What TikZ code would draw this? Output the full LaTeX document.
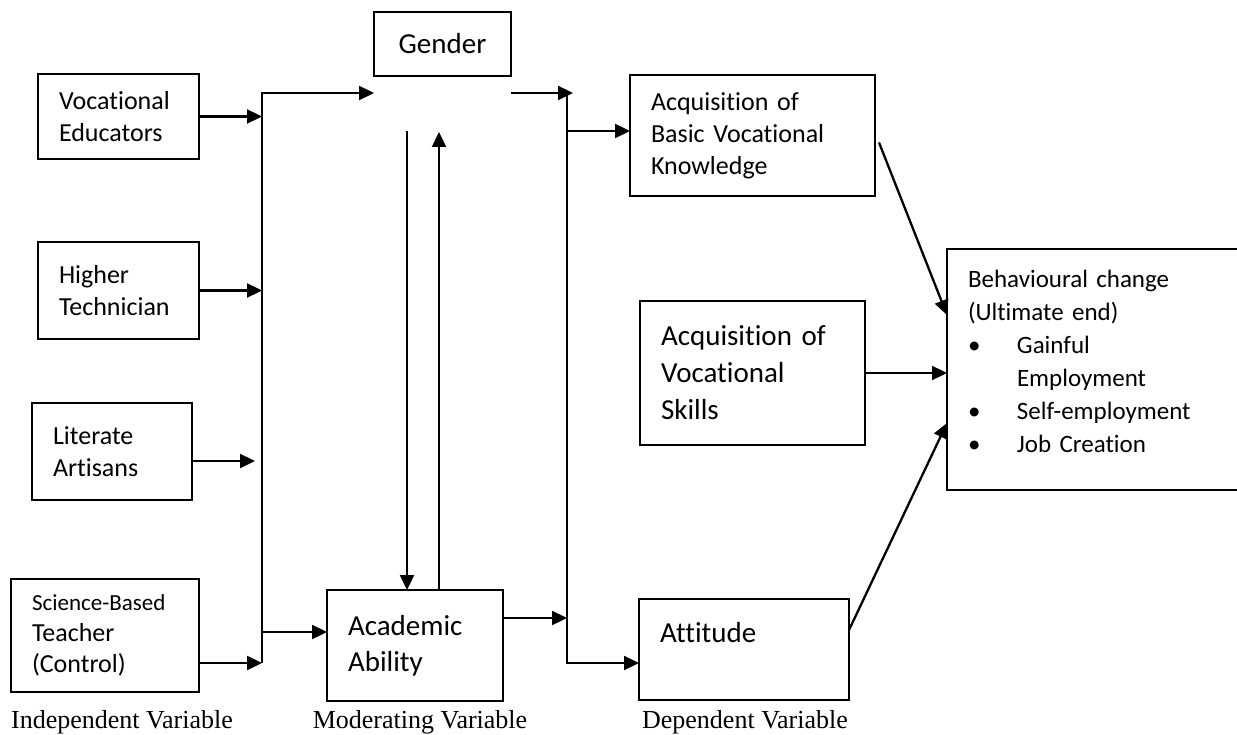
\documentclass[tikz,border=0pt]{standalone}
\usepackage{fontspec}
\setmainfont{Carlito}[Ligatures=CommonOff]
\newfontfamily\timesfont{Liberation Serif}
\usetikzlibrary{arrows.meta, calc}

\tikzset{
  varbox/.style={draw, line width=2.4pt, anchor=north west, inner xsep=21pt,
    inner ysep=0pt, outer sep=0pt, align=left, font=\fontsize{26}{32}\selectfont},
  arr/.style={line width=2.3pt, -{Triangle[length=15pt,width=14pt]}},
  varlabel/.style={font=\timesfont\fontsize{26}{30}\selectfont}
}

\begin{document}
\begin{tikzpicture}[x=1pt, y=-1pt]
  \useasboundingbox (0,0) rectangle (1237,735);

  % Independent variables
  \node[varbox, text width=119pt, minimum height=85pt] (voced) at (38,74)
    {Vocational\\Educators};
  \node[varbox, text width=119pt, minimum height=97pt] (higher) at (38,242)
    {Higher\\Technician};
  \node[varbox, text width=118pt, minimum height=97pt] (literate) at (32,403)
    {Literate\\Artisans};
  \node[varbox, text width=146pt, minimum height=113pt, font=\fontsize{26}{31}\selectfont] (science) at (11,579)
    {{\fontsize{23}{31}\selectfont Science-Based}\\Teacher\\(Control)};

  % Moderating variables
  \node[varbox, text width=95pt, minimum height=64pt, align=center,
    font=\fontsize{29}{35}\selectfont] (gender) at (374,12) {Gender};
  \node[varbox, text width=134pt, minimum height=111pt,
    font=\fontsize{29}{36}\selectfont] (academic) at (327,590) {Academic\\Ability};

  % Dependent variables
  \node[varbox, text width=203pt, minimum height=121pt] (basic) at (630,75)
    {Acquisition of\\Basic Vocational\\Knowledge};
  \node[varbox, text width=183pt, minimum height=144pt,
    font=\fontsize{29}{37}\selectfont] (skills) at (640,301)
    {Acquisition of\\Vocational\\Skills};
  \node[varbox, text width=168pt, minimum height=101pt,
    font=\fontsize{29}{32}\selectfont] (attitude) at (639,599) {Attitude\\[3pt]\mbox{}};

  % Ultimate end
  \node[varbox, text width=250pt, minimum height=241pt,
    font=\fontsize{25}{33}\selectfont] (behav) at (947,249)
    {Behavioural change\\(Ultimate end)\\
     \makebox[49pt][l]{\textbullet}Gainful\\
     \hspace*{49pt}Employment\\
     \makebox[49pt][l]{\textbullet}Self-employment\\
     \makebox[49pt][l]{\textbullet}Job Creation\\[-17pt]\mbox{}};

  % Bus lines
  \coordinate (bus1t) at (262,93);
  \coordinate (bus1m) at (262,632);
  \coordinate (bus1b) at (262,663);
  \coordinate (bus2t) at (567,93);
  \coordinate (bus2u) at (567,131);
  \coordinate (bus2m) at (567,618);
  \coordinate (bus2b) at (567,663);
  \coordinate (litend) at (255,461);
  \coordinate (moddown) at (407,131);
  \coordinate (modup) at (439,132);

  \draw[arr] (bus1b) -- (bus1t) -- (bus1t -| gender.west);
  \draw[arr] (bus2t) -- (bus2b) -- (bus2b -| attitude.west);

  % Arrows into the buses
  \foreach \n in {voced,higher}
    \draw[arr] (\n.east) -- (\n.east -| bus1t);
  \draw[arr] (literate.east |- litend) -- (litend);
  \draw[arr] (science.east |- bus1b) -- (bus1b);
  \draw[arr] (bus1m) -- (bus1m -| academic.west);
  \draw[arr] (gender.east |- bus2t) -- ([xshift=6pt]bus2t);
  \draw[arr] (bus2u) -- (bus2u -| basic.west);
  \draw[arr] (academic.east |- bus2m) -- (bus2m);

  % Gender <-> academic ability
  \draw[arr] (moddown) -- (moddown |- academic.north);
  \draw[arr] (modup |- academic.north) -- (modup);

  % To behavioural change
  \draw[arr] ([shift={(4pt,-7pt)}]basic.east) -- ([yshift=-66pt]behav.north west);
  \draw[arr] (skills.east) -- (skills.east -| behav.west);
  \draw[arr] ([yshift=19.5pt]attitude.east) -- ([yshift=-174pt]behav.north west);

  % Labels
  \node[varlabel] (lblind) at (122,722) {Independent Variable};
  \node[varlabel] (lblmod) at (420,722) {Moderating Variable};
  \node[varlabel] (lbldep) at (745,722) {Dependent Variable};

\end{tikzpicture}
\end{document}
